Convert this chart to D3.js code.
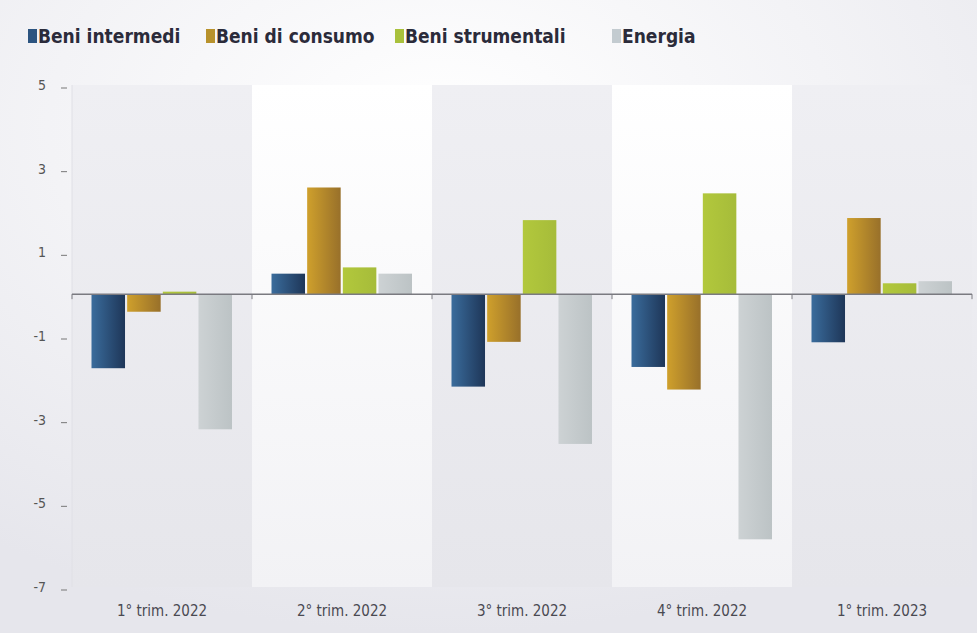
<!DOCTYPE html>
<html><head><meta charset="utf-8">
<script src="https://cdn.jsdelivr.net/npm/d3@7"></script>
<style>
html,body{margin:0;padding:0;background:#f1f1f4;}
svg{display:block;}
</style></head>
<body>
<svg id="chart" width="977" height="633"></svg>
<script>
const categories = ["1° trim. 2022","2° trim. 2022","3° trim. 2022","4° trim. 2022","1° trim. 2023"];
const seriesNames = ["Beni intermedi","Beni di consumo","Beni strumentali","Energia"];
const beniIntermedi   = [-1.77, 0.49, -2.21, -1.74, -1.15];
const beniDiConsumo   = [-0.42, 2.55, -1.14, -2.28,  1.82];
const beniStrumentali = [ 0.06, 0.64,  1.77,  2.41,  0.26];
const energia         = [-3.23, 0.49, -3.58, -5.86,  0.31];
const yTicks = [5,3,1,-1,-3,-5,-7];

const seriesValues = [beniIntermedi, beniDiConsumo, beniStrumentali, energia];
const gradStops = [
  ["#3a6c9c","#1e3658"],
  ["#cfa02c","#98702a"],
  ["#b2c83c","#a6bc3a"],
  ["#cdd2d4","#bcc3c5"]
];
const legendColors = ["#2c5480","#b8922c","#a9c13c","#c3cbd0"];

const svg = d3.select("#chart");
const W = 977, H = 633;
const x0 = 72, x1 = 972, yTop = 85, yBot = 587;

const defs = svg.append("defs");
const bg = defs.append("radialGradient").attr("id","bg").attr("cx","0.45").attr("cy","0.2").attr("r","0.8");
bg.append("stop").attr("offset","0").attr("stop-color","#ffffff");
bg.append("stop").attr("offset","0.5").attr("stop-color","#f3f3f6");
bg.append("stop").attr("offset","1").attr("stop-color","#e6e6ec");
const pg = defs.append("linearGradient").attr("id","panel").attr("x1","0").attr("y1","0").attr("x2","0").attr("y2","1");
pg.append("stop").attr("offset","0").attr("stop-color","#efeff3");
pg.append("stop").attr("offset","1").attr("stop-color","#e6e6eb");
const wg = defs.append("linearGradient").attr("id","white").attr("x1","0").attr("y1","0").attr("x2","0").attr("y2","1");
wg.append("stop").attr("offset","0").attr("stop-color","#ffffff");
wg.append("stop").attr("offset","1").attr("stop-color","#f2f2f5");
gradStops.forEach((s,i)=>{
  const g = defs.append("linearGradient").attr("id","g"+i).attr("x1","0").attr("x2","1").attr("y1","0").attr("y2","0");
  g.append("stop").attr("offset","0").attr("stop-color",s[0]);
  g.append("stop").attr("offset","1").attr("stop-color",s[1]);
});

svg.append("rect").attr("width",W).attr("height",H).attr("fill","url(#bg)");

const x = d3.scaleBand().domain(categories).range([x0,x1]).padding(0);
const xs = d3.scaleBand().domain(seriesNames).range([19.5, x.bandwidth()-20]).paddingInner(0.06);
const y = d3.scaleLinear().domain([-7,5]).range([yBot,yTop]);

// panels
svg.append("g").selectAll("rect").data(categories).join("rect")
  .attr("x", d=>x(d)).attr("y", yTop).attr("width", x.bandwidth()).attr("height", yBot-yTop)
  .attr("fill", (d,i)=> i%2===0 ? "url(#panel)" : "url(#white)");

// left axis line
svg.append("line").attr("x1",x0).attr("x2",x0).attr("y1",yTop).attr("y2",yBot)
  .attr("stroke","#e0e0e6").attr("stroke-width",1);

// y ticks
const yg = svg.append("g");
yg.selectAll("text").data(yTicks).join("text")
  .attr("x",46).attr("y",d=>y(d)).attr("dy","0.35em").attr("text-anchor","end")
  .attr("font-family","'DejaVu Sans Condensed','Liberation Sans Narrow',sans-serif")
  .attr("font-size",14).attr("fill","#555").text(d=>d);
yg.selectAll("line").data(yTicks).join("line")
  .attr("x1",61).attr("x2",67).attr("y1",d=>y(d)+3).attr("y2",d=>y(d)+3)
  .attr("stroke","#777").attr("stroke-width",1);

// bars
const gs = svg.append("g").selectAll("g").data(categories).join("g")
  .attr("transform", d=>`translate(${x(d)},0)`);
gs.selectAll("rect").data((c,ci)=>seriesNames.map((s,si)=>({s,si,v:seriesValues[si][ci]}))).join("rect")
  .attr("x", d=>xs(d.s)).attr("width", xs.bandwidth())
  .attr("y", d=>y(Math.max(0,d.v))).attr("height", d=>Math.abs(y(d.v)-y(0)))
  .attr("fill", d=>`url(#g${d.si})`);

// zero baseline
const xAxis = d3.axisBottom(x).tickSize(0).tickFormat("");
svg.append("line").attr("x1",x0).attr("x2",x1).attr("y1",y(0)).attr("y2",y(0))
  .attr("stroke","#7a7a80").attr("stroke-width",1.5);
svg.append("g").selectAll("line").data(d3.range(categories.length+1)).join("line")
  .attr("x1",i=>x0+i*x.bandwidth()).attr("x2",i=>x0+i*x.bandwidth())
  .attr("y1",y(0)).attr("y2",y(0)+5).attr("stroke","#7a7a80").attr("stroke-width",1);

// x labels
svg.append("g").selectAll("text").data(categories).join("text")
  .attr("x", d=>x(d)+x.bandwidth()/2).attr("y",611).attr("dy","0.35em").attr("text-anchor","middle")
  .attr("font-family","'DejaVu Sans Condensed','Liberation Sans Narrow',sans-serif")
  .attr("font-size",15).attr("fill","#4a4a52").text(d=>d);

// legend
const legendX = [28, 206, 395, 612];
const lg = svg.append("g");
seriesNames.forEach((s,i)=>{
  lg.append("rect").attr("x",legendX[i]).attr("y",29).attr("width",9).attr("height",14).attr("fill",legendColors[i]);
  lg.append("text").attr("x",legendX[i]+10).attr("y",36).attr("dy","0.35em")
    .attr("font-family","'Liberation Sans Narrow','DejaVu Sans Condensed',sans-serif")
    .attr("font-weight","bold").attr("font-size",19).attr("fill","#2b2b3a").text(s);
});
</script>
</body></html>
